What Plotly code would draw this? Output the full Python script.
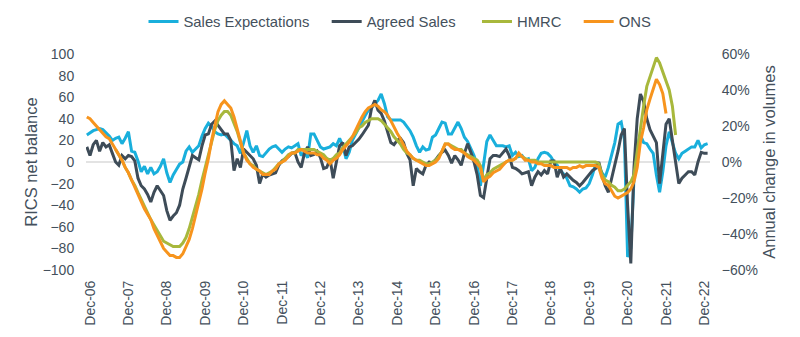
import pandas as pd
import plotly.graph_objects as go

# Monthly categories: Nov-06 .. Jan-23
months = [d.strftime("%b-%y") for d in pd.date_range("2006-11-01", "2023-01-01", freq="MS")]

sales_expectations = [
    25, 27, 29, 30, 31, 30, 27, 24, 20, 22, 23, 17,
    22, 28, 10, 9, 1, -9, -4, -11, -5, -11, -9, -4,
    3, -10, -19, -12, -7, -2, 0, 10, 14, 9, 12, 15,
    24, 31, 36, 33, 28, 26, 25, 26, 23, 20, 17, 15,
    8, 18, 29, 15, 9, 15, 6, 5, 9, 12, 14, 15,
    12, 9, 12, 14, 13, 15, 17, 6, 9, 4, 26, 26,
    20, 14, 12, 13, 14, 17, 15, 22, 15, 3, 9, 20,
    26, 32, 37, 43, 48, 50, 54, 57, 63, 54, 42, 39,
    39, 39, 39, 37, 33, 29, 23, 15, 9, 14, 11, 12,
    23, 25, 31, 37, 36, 26, 26, 32, 37, 31, 23, 19,
    12, 6, -3, -22, -2, 19, 25, 20, 15, 15, 15, 14,
    15, 6, 9, 5, 6, 2, 3, -8, -5, 3, 8, 9,
    8, 5, 0, -3, -8, -11, -15, -22, -23, -25, -28, -25,
    -24, -20, -12, -2, -6, -9, -14, -5, 6, 18, 35, 37,
    21, -88, -80, -15, 15, 25, 18, 17, 12, 8, -12, -28,
    -9, 15, 28, 18, 8, 3, 8, 10, 12, 14, 14, 20,
    13, 16, 17,
]

agreed_sales = [
    14, 6, 16, 20, 10, 18, 14, 16, 8, 0, -3, 6,
    3, 6, 5, 1, -15, -22, -25, -30, -37, -28, -22, -27,
    -31, -45, -54, -50, -47, -40, -25, -15, -5, 6, 4, 2,
    15, 25, 26, 35, 38, 34, 29, 26, 26, 20, -8, 3,
    -5, 12, 9, 6, 3, -3, -20, -11, -14, -12, -11, -10,
    -3, 1, 3, 5, 8, 9, 0, -5, 8, 14, 6, 7,
    10, 4, -6, -5, 3, -15, 0, 15, 18, 6, 14, 15,
    18, 21, 25, 30, 34, 50, 57, 48, 45, 38, 28, 18,
    16, 20, 22, 18, 8, 2, -22, -6, -9, -11, -3, 0,
    -1, 2, 6, 9, 11, 6, -1, 6, 2, -3, 8, 17,
    9, 0, -12, -31, -33, -14, 3, 6, 6, 5, 9, 12,
    6, -5, -6, -8, -11, -10, -9, -22, -14, -9, -12, -8,
    -11, 1, 1, -14, -6, -14, -11, -14, -17, -19, -22, -19,
    -15, -12, -8, -6, 0, -12, -22, -28, -15, -5, 10, 25,
    31, -40, -94, -5, 40, 63, 56, 40, 30, 24, 18, -20,
    8, 35, 40, 18, 0, -20, -15, -12, -9, -9, -12, 0,
    9, 8, 8,
]

# HMRC: Aug-07 .. Mar-22 (annual % change)
hmrc_start = "Aug-07"
hmrc = [
    7, 4, 1, -3, -6, -10, -13, -17, -21, -25, -28, -32,
    -35, -38, -41, -44, -45, -46, -47, -47, -47, -45, -42, -37,
    -31, -25, -18, -10, -3, 5, 12, 18, 23, 26, 28, 28,
    26, 22, 17, 11, 5, 2, -1, -2, -4, -5, -6, -7,
    -6, -5, -3, -1, 0, 2, 4, 5, 5, 7, 7, 7,
    7, 7, 7, 6, 5, 4, 2, 1, 2, 4, 5, 8,
    10, 12, 14, 16, 19, 20, 22, 23, 24, 24, 24, 23,
    21, 19, 17, 14, 12, 10, 7, 5, 4, 2, 1, 1,
    0, -1, -1, 0, 1, 3, 6, 10, 10, 9, 8, 7,
    7, 5, 4, 3, 2, 1, -2, -10, -7, -6, -4, -3,
    -2, -1, 0, 1, 1, 2, 4, 3, 2, 1, 1, 1,
    0, 0, 0, 0, 0, 0, 0, 0, 0, 0, 0, 0,
    0, 0, 0, 0, 0, 0, 0, -1, -7, -10, -11, -13,
    -14, -16, -16, -15, -13, -11, -7, 6, 21, 31, 42, 47,
    52, 58, 55, 50, 46, 40, 31, 15,
]

# ONS: Nov-06 .. Dec-21 (annual % change)
ons = [
    25, 24, 22, 20, 18, 16, 14, 13, 10, 7, 4, 1,
    -3, -6, -10, -14, -19, -22, -26, -29, -32, -37, -41, -45,
    -48, -50, -52, -52, -53, -53, -51, -47, -43, -37, -30, -23,
    -15, -6, 2, 12, 20, 28, 32, 34, 32, 30, 25, 18,
    11, 5, 1, -1, -3, -4, -5, -7, -7, -7, -5, -4,
    -1, 0, 1, 3, 5, 5, 6, 7, 6, 5, 5, 5,
    4, 4, 2, 1, -1, 1, 2, 4, 7, 9, 11, 14,
    18, 21, 25, 28, 30, 31, 32, 31, 29, 28, 26, 23,
    19, 16, 13, 9, 6, 4, 2, 1, 0, -1, -2, -2,
    -1, 0, 2, 6, 10, 10, 8, 7, 7, 6, 5, 3,
    2, 1, -1, -3, -11, -9, -8, -6, -5, -4, -2, 0,
    1, 1, 2, 5, 3, 1, 1, 0, 0, -1, -1, -2,
    -2, -2, -3, -3, -3, -3, -3, -4, -3, -3, -2, -3,
    -2, -2, -2, -2, -3, -9, -12, -13, -16, -19, -20, -19,
    -18, -17, -15, -11, -3, 11, 19, 29, 35, 41, 46, 43,
    38, 27,
]

tick_labels = ["Dec-%02d" % y for y in range(6, 23)]

hi = months.index(hmrc_start)
hmrc_x = months[hi:hi + len(hmrc)]
ons_x = months[:len(ons)]

TXT = "#44505c"
FONT = "Liberation Sans, Arial, sans-serif"
PAD = "\u00a0\u00a0\u00a0"

fig = go.Figure()
fig.add_trace(go.Scatter(x=months[:len(sales_expectations)], y=sales_expectations,
                         name="Sales Expectations" + PAD, mode="lines",
                         line=dict(color="#19afdc", width=3)))
fig.add_trace(go.Scatter(x=months[:len(agreed_sales)], y=agreed_sales,
                         name="Agreed Sales" + PAD + "\u00a0", mode="lines",
                         line=dict(color="#3e4c58", width=3)))
fig.add_trace(go.Scatter(x=hmrc_x, y=hmrc, name="HMRC" + PAD, mode="lines", yaxis="y2",
                         line=dict(color="#a8b83c", width=3)))
fig.add_trace(go.Scatter(x=ons_x, y=ons, name="ONS", mode="lines", yaxis="y2",
                         line=dict(color="#f7941d", width=3)))

fig.update_layout(
    width=800, height=337,
    margin=dict(l=86, r=90, t=54, b=67, autoexpand=False),
    paper_bgcolor="white", plot_bgcolor="white",
    font=dict(family=FONT, size=14, color=TXT),
    showlegend=True,
    legend=dict(orientation="h", x=0.5, xanchor="center", xref="container",
                y=1 - 22 / 337, yanchor="middle", yref="container",
                font=dict(size=14.8, color=TXT), tracegroupgap=0),
    xaxis=dict(type="category", categoryorder="array", categoryarray=months,
               range=[-0.25, len(months) - 0.25],
               tickmode="array", tickvals=tick_labels, ticktext=tick_labels,
               tickangle=-90, showgrid=False, zeroline=False, showline=False,
               ticks="outside", ticklen=4, tickcolor="rgba(0,0,0,0)",
               tickfont=dict(size=14, color=TXT)),
    yaxis=dict(range=[-100, 100], dtick=20, tick0=0, showgrid=False,
               zeroline=True, zerolinecolor="#e3e3e3", zerolinewidth=2,
               showline=False, ticks="outside", ticklen=8, tickcolor="rgba(0,0,0,0)",
               tickfont=dict(size=14, color=TXT),
               title=dict(text="RICS net balance", font=dict(size=16.5, color=TXT), standoff=0)),
    yaxis2=dict(range=[-60, 60], dtick=20, tick0=0, overlaying="y", side="right",
                showgrid=False, zeroline=False, showline=False, ticksuffix="%",
                ticks="outside", ticklen=8, tickcolor="rgba(0,0,0,0)",
                tickfont=dict(size=14, color=TXT),
                title=dict(text="Annual change in volumes", font=dict(size=16.5, color=TXT), standoff=6)),
)

fig.write_html("out.html")
